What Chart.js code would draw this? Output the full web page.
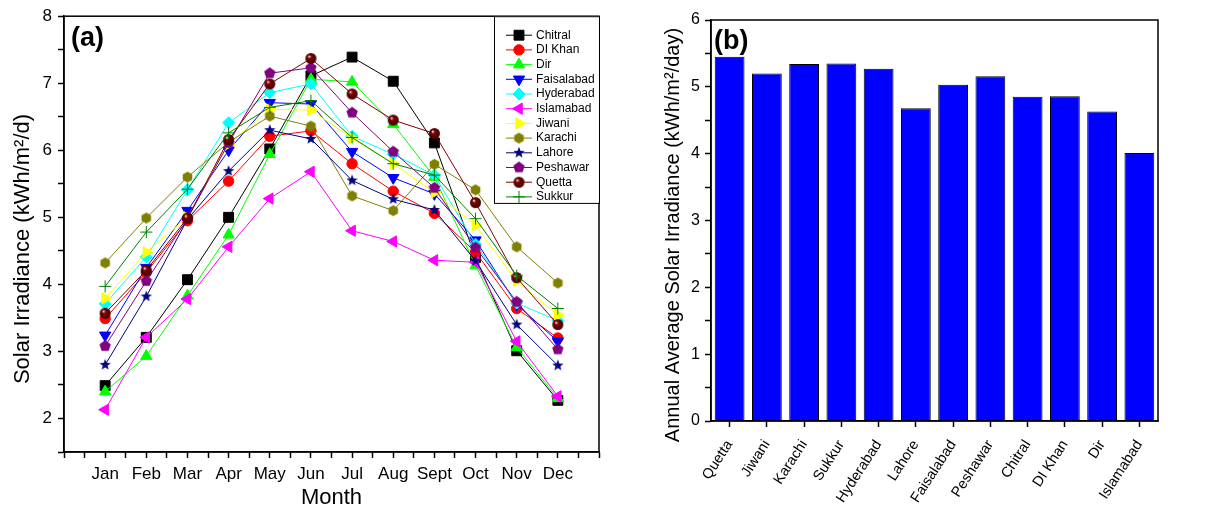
<!DOCTYPE html>
<html>
<head>
<meta charset="utf-8">
<script src="https://cdn.jsdelivr.net/npm/chart.js@4.4.0/dist/chart.umd.min.js"></script>
<style>
  html, body { margin: 0; padding: 0; background: #fff; }
  #wrap { position: relative; width: 1214px; height: 511px; }
  canvas { position: absolute; top: 0; }
  #monthlyChart { left: 0; }
  #annualChart { left: 610px; }
</style>
</head>
<body>
<div id="wrap">
  <canvas id="monthlyChart" width="610" height="511"></canvas>
  <canvas id="annualChart" width="604" height="511"></canvas>
</div>
<script>
// monthly solar irradiance (kWh/m2/d)
const months = ['Jan', 'Feb', 'Mar', 'Apr', 'May', 'Jun', 'Jul', 'Aug', 'Sept', 'Oct', 'Nov', 'Dec'];
const cities = ['Chitral', 'DI Khan', 'Dir', 'Faisalabad', 'Hyderabad', 'Islamabad',
                'Jiwani', 'Karachi', 'Lahore', 'Peshawar', 'Quetta', 'Sukkur'];

const chitral    = [2.49, 3.21, 4.07, 5.00, 6.02, 7.11, 7.39, 7.03, 6.11, 4.40, 3.01, 2.27];
const diKhan     = [3.49, 4.18, 4.95, 5.54, 6.21, 6.29, 5.80, 5.39, 5.06, 4.48, 3.64, 3.20];
const dir        = [2.40, 2.93, 3.83, 4.74, 5.94, 7.06, 7.02, 6.39, 5.60, 4.28, 3.06, 2.30];
const faisalabad = [3.24, 4.25, 5.10, 6.00, 6.71, 6.69, 5.98, 5.59, 5.35, 4.66, 3.70, 3.15];
const hyderabad  = [3.71, 4.41, 5.41, 6.41, 6.86, 6.99, 6.21, 5.94, 5.63, 4.60, 3.72, 3.46];
const islamabad  = [2.13, 3.21, 3.78, 4.56, 5.28, 5.68, 4.80, 4.64, 4.36, 4.33, 3.15, 2.33];
const jiwani     = [3.79, 4.48, 5.00, 6.09, 6.61, 6.60, 6.18, 5.80, 5.37, 4.88, 4.05, 3.54];
const karachi    = [4.32, 4.99, 5.60, 6.12, 6.51, 6.36, 5.32, 5.10, 5.79, 5.41, 4.56, 4.02];
const lahore     = [2.80, 3.82, 4.97, 5.69, 6.30, 6.17, 5.55, 5.27, 5.11, 4.35, 3.40, 2.79];
const peshawar   = [3.08, 4.05, 4.98, 6.11, 7.15, 7.23, 6.56, 5.98, 5.44, 4.55, 3.74, 3.03];
const quetta     = [3.57, 4.21, 4.99, 6.16, 6.99, 7.37, 6.84, 6.45, 6.25, 5.22, 4.10, 3.40];
const sukkur     = [3.97, 4.78, 5.42, 6.26, 6.64, 6.74, 6.19, 5.80, 5.63, 4.98, 4.13, 3.64];
const monthlySeries = [chitral, diKhan, dir, faisalabad, hyderabad, islamabad,
                       jiwani, karachi, lahore, peshawar, quetta, sukkur];

// annual average (kWh/m2/day), panel (b)
const barCities = ['Quetta', 'Jiwani', 'Karachi', 'Sukkur', 'Hyderabad', 'Lahore',
                   'Faisalabad', 'Peshawar', 'Chitral', 'DI Khan', 'Dir', 'Islamabad'];
const annualAverage = [5.45, 5.20, 5.34, 5.35, 5.27, 4.68, 5.03, 5.16, 4.85, 4.86, 4.63, 4.01];

Chart.defaults.font.family = '"Liberation Sans", Arial, sans-serif';
Chart.defaults.color = '#000';
Chart.defaults.animation = false;

// small marker glyphs Chart.js has no built-in style for
function markerImage(shape, color, size) {
  const c = document.createElement('canvas');
  c.width = c.height = size + 2;
  const g = c.getContext('2d');
  const m = (size + 2) / 2, r = size / 2;
  g.beginPath();
  if (shape === 'sphere') {
    const grad = g.createRadialGradient(m - r * 0.35, m - r * 0.4, 0.3, m, m, r);
    grad.addColorStop(0, '#f6dede');
    grad.addColorStop(0.3, color);
    grad.addColorStop(1, '#3c0000');
    g.fillStyle = grad;
    g.arc(m, m, r, 0, Math.PI * 2);
  } else {
    const n = shape === 'hex' ? 6 : (shape === 'star' ? 10 : 5);
    for (let i = 0; i < n; i++) {
      const a = -Math.PI / 2 + i * 2 * Math.PI / n;
      const rr = (shape === 'star' && i % 2) ? r * 0.42 : r;
      const px = m + Math.cos(a) * rr, py = m + Math.sin(a) * rr;
      if (i === 0) g.moveTo(px, py); else g.lineTo(px, py);
    }
    g.fillStyle = color;
  }
  g.closePath();
  g.fill();
  return c;
}

const seriesStyles = [
  { color: '#000000', pointStyle: 'rect', radius: 7 },
  { color: '#ff0000', pointStyle: 'circle', radius: 5.2 },
  { color: '#00ff00', pointStyle: 'triangle', radius: 6.5 },
  { color: '#0000ff', pointStyle: 'triangle', rotation: 180, radius: 6.5 },
  { color: '#00ffff', pointStyle: 'rectRot', radius: 6 },
  { color: '#ff00ff', pointStyle: 'triangle', rotation: -90, radius: 6.5 },
  { color: '#ffff00', pointStyle: 'triangle', rotation: 90, radius: 6.5 },
  { color: '#808000', pointStyle: markerImage('hex', '#808000', 11), radius: 6 },
  { color: '#000080', pointStyle: markerImage('star', '#000080', 12), radius: 6 },
  { color: '#800080', pointStyle: markerImage('pent', '#800080', 12), radius: 6 },
  { color: '#800000', pointStyle: markerImage('sphere', '#800000', 11), radius: 6 },
  { color: '#008000', pointStyle: 'cross', radius: 6 }
];

const isWhole = v => Math.abs(v - Math.round(v)) < 1e-6;

// box around the plot, panel tag and the vertical axis title
const framePlugin = {
  id: 'frame',
  afterDatasetsDraw(chart, args, opts) {
    const { ctx, chartArea: a } = chart;
    ctx.save();
    ctx.strokeStyle = '#000';
    ctx.lineWidth = 1.5;
    ctx.strokeRect(a.left, a.top, a.right - a.left, a.bottom - a.top);
    ctx.fillStyle = '#000';
    ctx.textBaseline = 'middle';
    ctx.font = 'bold 27px "Liberation Sans", Arial, sans-serif';
    ctx.fillText(opts.tag, a.left + opts.dx, a.top + opts.dy);
    ctx.translate(opts.titleX, opts.titleY);
    ctx.rotate(-Math.PI / 2);
    ctx.textAlign = 'center';
    ctx.font = opts.titleSize + 'px "Liberation Sans", Arial, sans-serif';
    ctx.fillText(opts.title, 0, 0);
    ctx.restore();
  }
};

// legend box in the top right corner of panel (a)
const cityLegend = {
  id: 'cityLegend',
  afterDatasetsDraw(chart) {
    const { ctx, chartArea } = chart;
    const sets = chart.data.datasets;
    const w = 105, rowH = 14.7;
    const left = chartArea.right - w, top = chartArea.top;
    const h = 19 + (sets.length - 1) * rowH + 6;
    ctx.save();
    ctx.fillStyle = '#fff';
    ctx.fillRect(left, top, w, h);
    ctx.strokeStyle = '#000';
    ctx.lineWidth = 1;
    ctx.strokeRect(left + 0.5, top + 0.5, w, h);
    ctx.font = '12px "Liberation Sans", Arial, sans-serif';
    ctx.textBaseline = 'middle';
    sets.forEach((ds, i) => {
      const y = top + 19 + i * rowH;
      ctx.strokeStyle = ds.borderColor;
      ctx.lineWidth = 1;
      ctx.beginPath();
      ctx.moveTo(left + 12, y);
      ctx.lineTo(left + 38, y);
      ctx.stroke();
      ctx.fillStyle = ds.pointBackgroundColor;
      ctx.strokeStyle = ds.pointBorderColor;
      Chart.helpers.drawPoint(ctx, {
        pointStyle: ds.pointStyle,
        rotation: ds.pointRotation || 0,
        radius: ds.pointRadius,
        borderWidth: 1
      }, left + 25, y);
      ctx.fillStyle = '#000';
      ctx.fillText(ds.label, left + 42, y);
    });
    ctx.restore();
  }
};

const monthlyDatasets = cities.map((name, i) => {
  const s = seriesStyles[i];
  return {
    label: name,
    data: monthlySeries[i].map((v, k) => ({ x: k + 1, y: v })),
    borderColor: s.color,
    borderWidth: 1,
    backgroundColor: s.color,
    pointBackgroundColor: s.color,
    pointBorderColor: s.color,
    pointBorderWidth: 1,
    pointStyle: s.pointStyle,
    pointRotation: s.rotation || 0,
    pointRadius: s.radius,
    order: -i
  };
});

new Chart(document.getElementById('monthlyChart').getContext('2d'), {
  type: 'line',
  data: { datasets: monthlyDatasets },
  plugins: [framePlugin, cityLegend],
  options: {
    responsive: false,
    layout: { padding: { left: 0, top: 15, right: 11, bottom: 0 } },
    plugins: {
      legend: { display: false },
      tooltip: { enabled: false },
      frame: { tag: '(a)', dx: 7, dy: 22, title: 'Solar Irradiance (kWh/m²/d)', titleSize: 22, titleX: 23, titleY: 249 }
    },
    scales: {
      x: {
        type: 'linear',
        min: 0,
        max: 13,
        ticks: {
          stepSize: 0.5,
          autoSkip: false,
          maxRotation: 0,
          padding: 6,
          font: { size: 17 },
          callback: v => (isWhole(v) && v >= 1 && v <= 12) ? months[Math.round(v) - 1] : ''
        },
        grid: { drawOnChartArea: false, tickLength: 6, tickColor: '#000', tickWidth: 1.5 },
        border: { color: '#000', width: 1.5 },
        title: { display: true, text: 'Month', font: { size: 22 }, padding: { top: 0, bottom: 0 } },
        afterFit: s => { s.height = 59; }
      },
      y: {
        min: 1.5,
        max: 8,
        ticks: {
          stepSize: 0.5,
          padding: 6,
          font: { size: 17 },
          callback: v => isWhole(v) ? Math.round(v) : ''
        },
        grid: { drawOnChartArea: false, tickLength: 6, tickColor: '#000', tickWidth: 1.5 },
        border: { color: '#000', width: 1.5 },
        afterFit: s => { s.width = 64; }
      }
    }
  }
});

new Chart(document.getElementById('annualChart').getContext('2d'), {
  type: 'bar',
  data: {
    labels: barCities,
    datasets: [{
      label: 'Annual average',
      data: annualAverage,
      backgroundColor: '#0000ff',
      borderColor: '#000',
      borderWidth: 1,
      barPercentage: 0.8,
      categoryPercentage: 1.0
    }]
  },
  plugins: [framePlugin],
  options: {
    responsive: false,
    layout: { padding: { left: 0, top: 20, right: 56, bottom: 0 } },
    plugins: {
      legend: { display: false },
      tooltip: { enabled: false },
      frame: { tag: '(b)', dx: 3, dy: 22, title: 'Annual Average Solar Irradiance (kWh/m²/day)', titleSize: 20, titleX: 63, titleY: 235 }
    },
    scales: {
      x: {
        offset: true,
        ticks: { autoSkip: false, minRotation: 57, maxRotation: 57, padding: 10, font: { size: 14.5 } },
        grid: { drawOnChartArea: false, offset: false, tickLength: 6, tickColor: '#000', tickWidth: 1.5 },
        border: { color: '#000', width: 1.5 },
        afterFit: s => { s.height = 90; }
      },
      y: {
        min: 0,
        max: 6,
        ticks: {
          stepSize: 0.5,
          padding: 5,
          font: { size: 16 },
          callback: v => isWhole(v) ? Math.round(v) : ''
        },
        grid: { drawOnChartArea: false, tickLength: 6, tickColor: '#000', tickWidth: 1.5 },
        border: { color: '#000', width: 1.5 },
        afterFit: s => { s.width = 101; }
      }
    }
  }
});
</script>
</body>
</html>
